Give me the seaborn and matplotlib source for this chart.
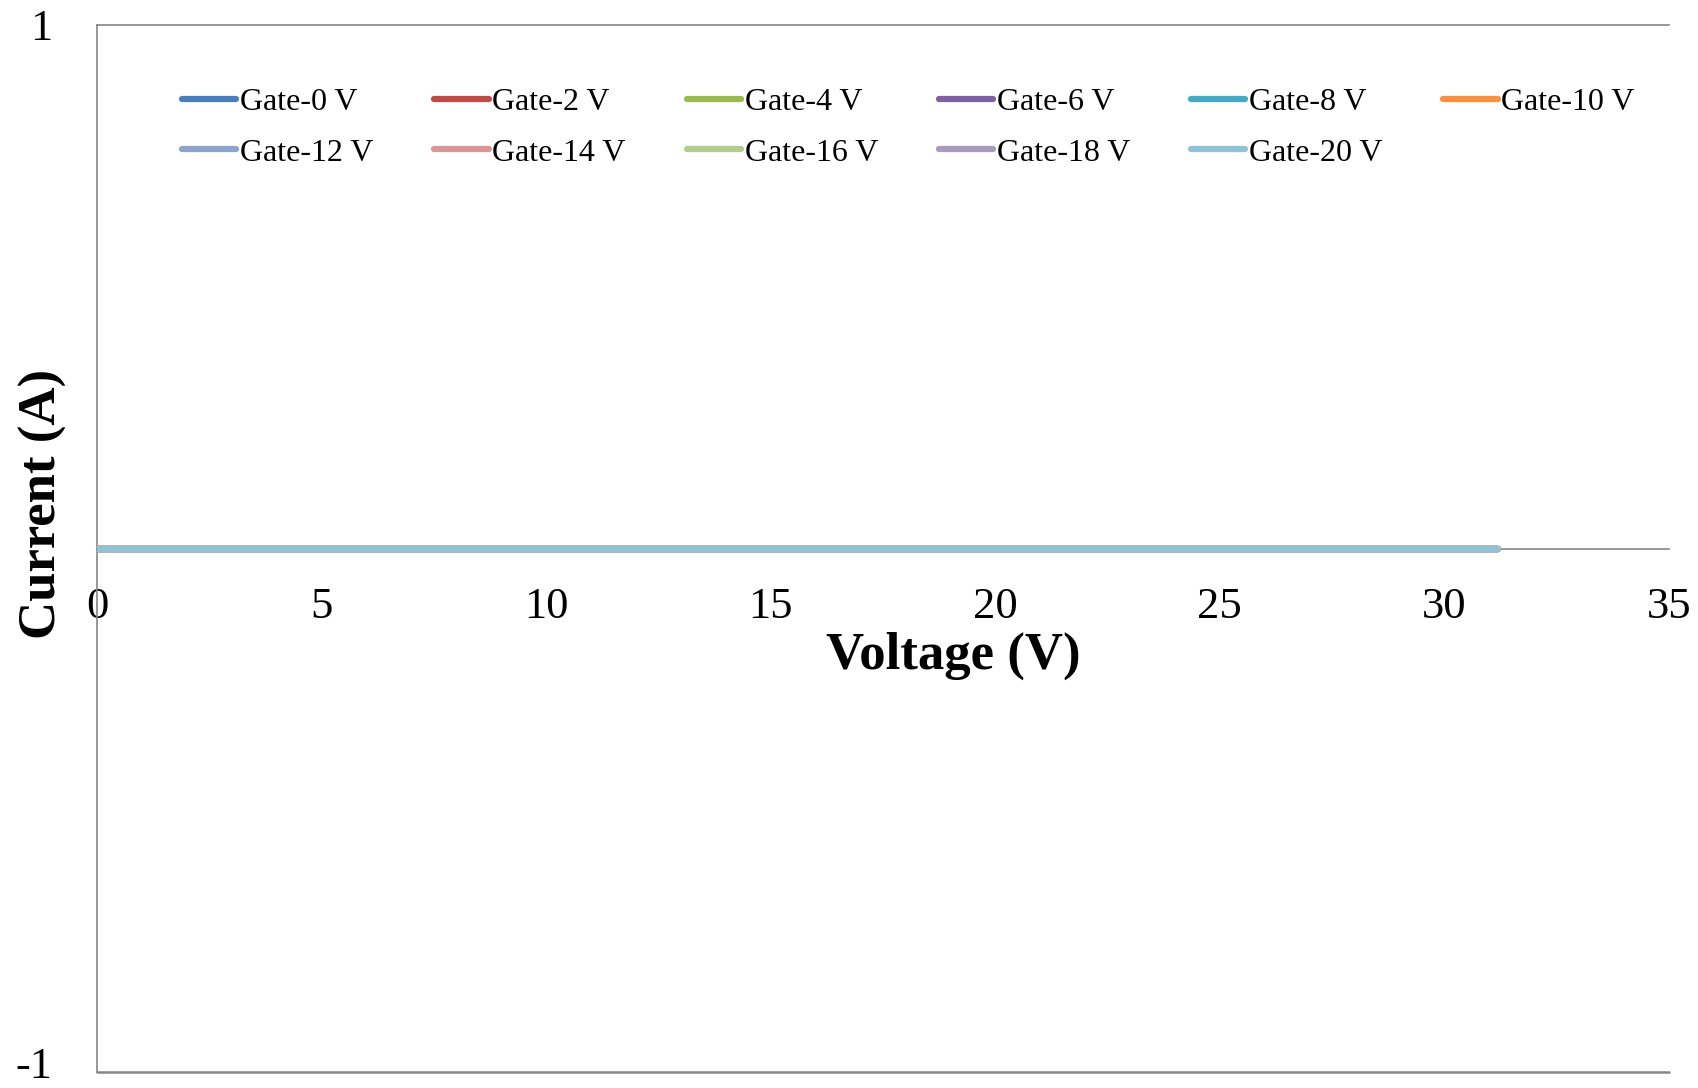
import pandas as pd
import matplotlib
matplotlib.use("Agg")
import matplotlib.pyplot as plt
import matplotlib.transforms as mtransforms
import seaborn as sns

# drain sweep (V) and measured current (A) per gate bias, all ~0
voltage = [0, 2, 4, 6, 8, 10, 12, 14, 16, 18, 20, 22, 24, 26, 28, 30, 31.2]
current = [0.0, 0.0, 0.0, 0.0, 0.0, 0.0, 0.0, 0.0, 0.0, 0.0, 0.0, 0.0, 0.0, 0.0, 0.0, 0.0, 0.0]
gates = ["Gate-0 V", "Gate-2 V", "Gate-4 V", "Gate-6 V", "Gate-8 V", "Gate-10 V",
         "Gate-12 V", "Gate-14 V", "Gate-16 V", "Gate-18 V", "Gate-20 V"]
colors = ["#4A7EBB", "#BE4B48", "#98B954", "#7D60A0", "#46AAC5", "#F69240",
          "#8EA5CB", "#D99694", "#B5CC90", "#A99BBD", "#8FC3D5"]

rows = []
for g in gates:
    for v, c in zip(voltage, current):
        rows.append({"Voltage": v, "Current": c, "Gate": g})
df = pd.DataFrame(rows)

sns.set_style("white")
plt.rcParams['font.family'] = ['Liberation Serif', 'DejaVu Serif']
plt.rcParams['text.color'] = 'black'
plt.rcParams['axes.labelcolor'] = 'black'
plt.rcParams['xtick.color'] = 'black'
plt.rcParams['ytick.color'] = 'black'

fig = plt.figure(figsize=(16.98, 10.88), dpi=100)
ax = fig.add_axes([97 / 1698, 16 / 1088, 1572 / 1698, 1047 / 1088])

sns.lineplot(data=df, x="Voltage", y="Current", hue="Gate", hue_order=gates,
             palette=colors, linewidth=4.5, ax=ax, legend=True,
             solid_capstyle='round', zorder=3)

ax.set_xlim(0, 35)
ax.set_ylim(-1, 1)
ax.set_xticks([0, 5, 10, 15, 20, 25, 30, 35])
ax.set_yticks([-1, 1])
ax.set_yticklabels(["-1", "1"])
ax.tick_params(axis='x', length=0, pad=28, labelsize=32)
ax.tick_params(axis='y', length=0, pad=32, labelsize=32)

# lift the -1 label a little so it stays inside the figure
lab = ax.get_yticklabels()[0]
lab.set_transform(lab.get_transform() + mtransforms.ScaledTranslation(0, 9 / 100, fig.dpi_scale_trans))

for s in ['left', 'bottom', 'top']:
    ax.spines[s].set_color('#868686')
    ax.spines[s].set_linewidth(1.2)
ax.spines['right'].set_visible(False)
ax.spines['bottom'].set_position(('data', 0))
ax.axhline(-1, color='#868686', linewidth=1.8, clip_on=False, zorder=0)

ax.set_xlabel("Voltage (V)", fontsize=38, fontweight='bold')
ax.set_ylabel("Current (A)", fontsize=38, fontweight='bold')
ax.xaxis.set_label_coords(0.5445, 0.421)
ax.yaxis.set_label_coords(-0.019, 0.5425)

# matplotlib fills legend columns first; reorder so rows read like the original
handles, labels = ax.get_legend_handles_labels()
order = []
for i in range(6):
    order.append(i)
    if i + 6 < len(handles):
        order.append(i + 6)
ax.legend([handles[i] for i in order], [labels[i] for i in order], ncol=6,
          loc='upper left', bbox_to_anchor=(0.044, 0.955),
          frameon=False, fontsize=23, handlelength=1.7, handletextpad=0.12,
          columnspacing=1.9, labelspacing=0.65, borderpad=0)

fig.savefig("out.png", dpi=100)
